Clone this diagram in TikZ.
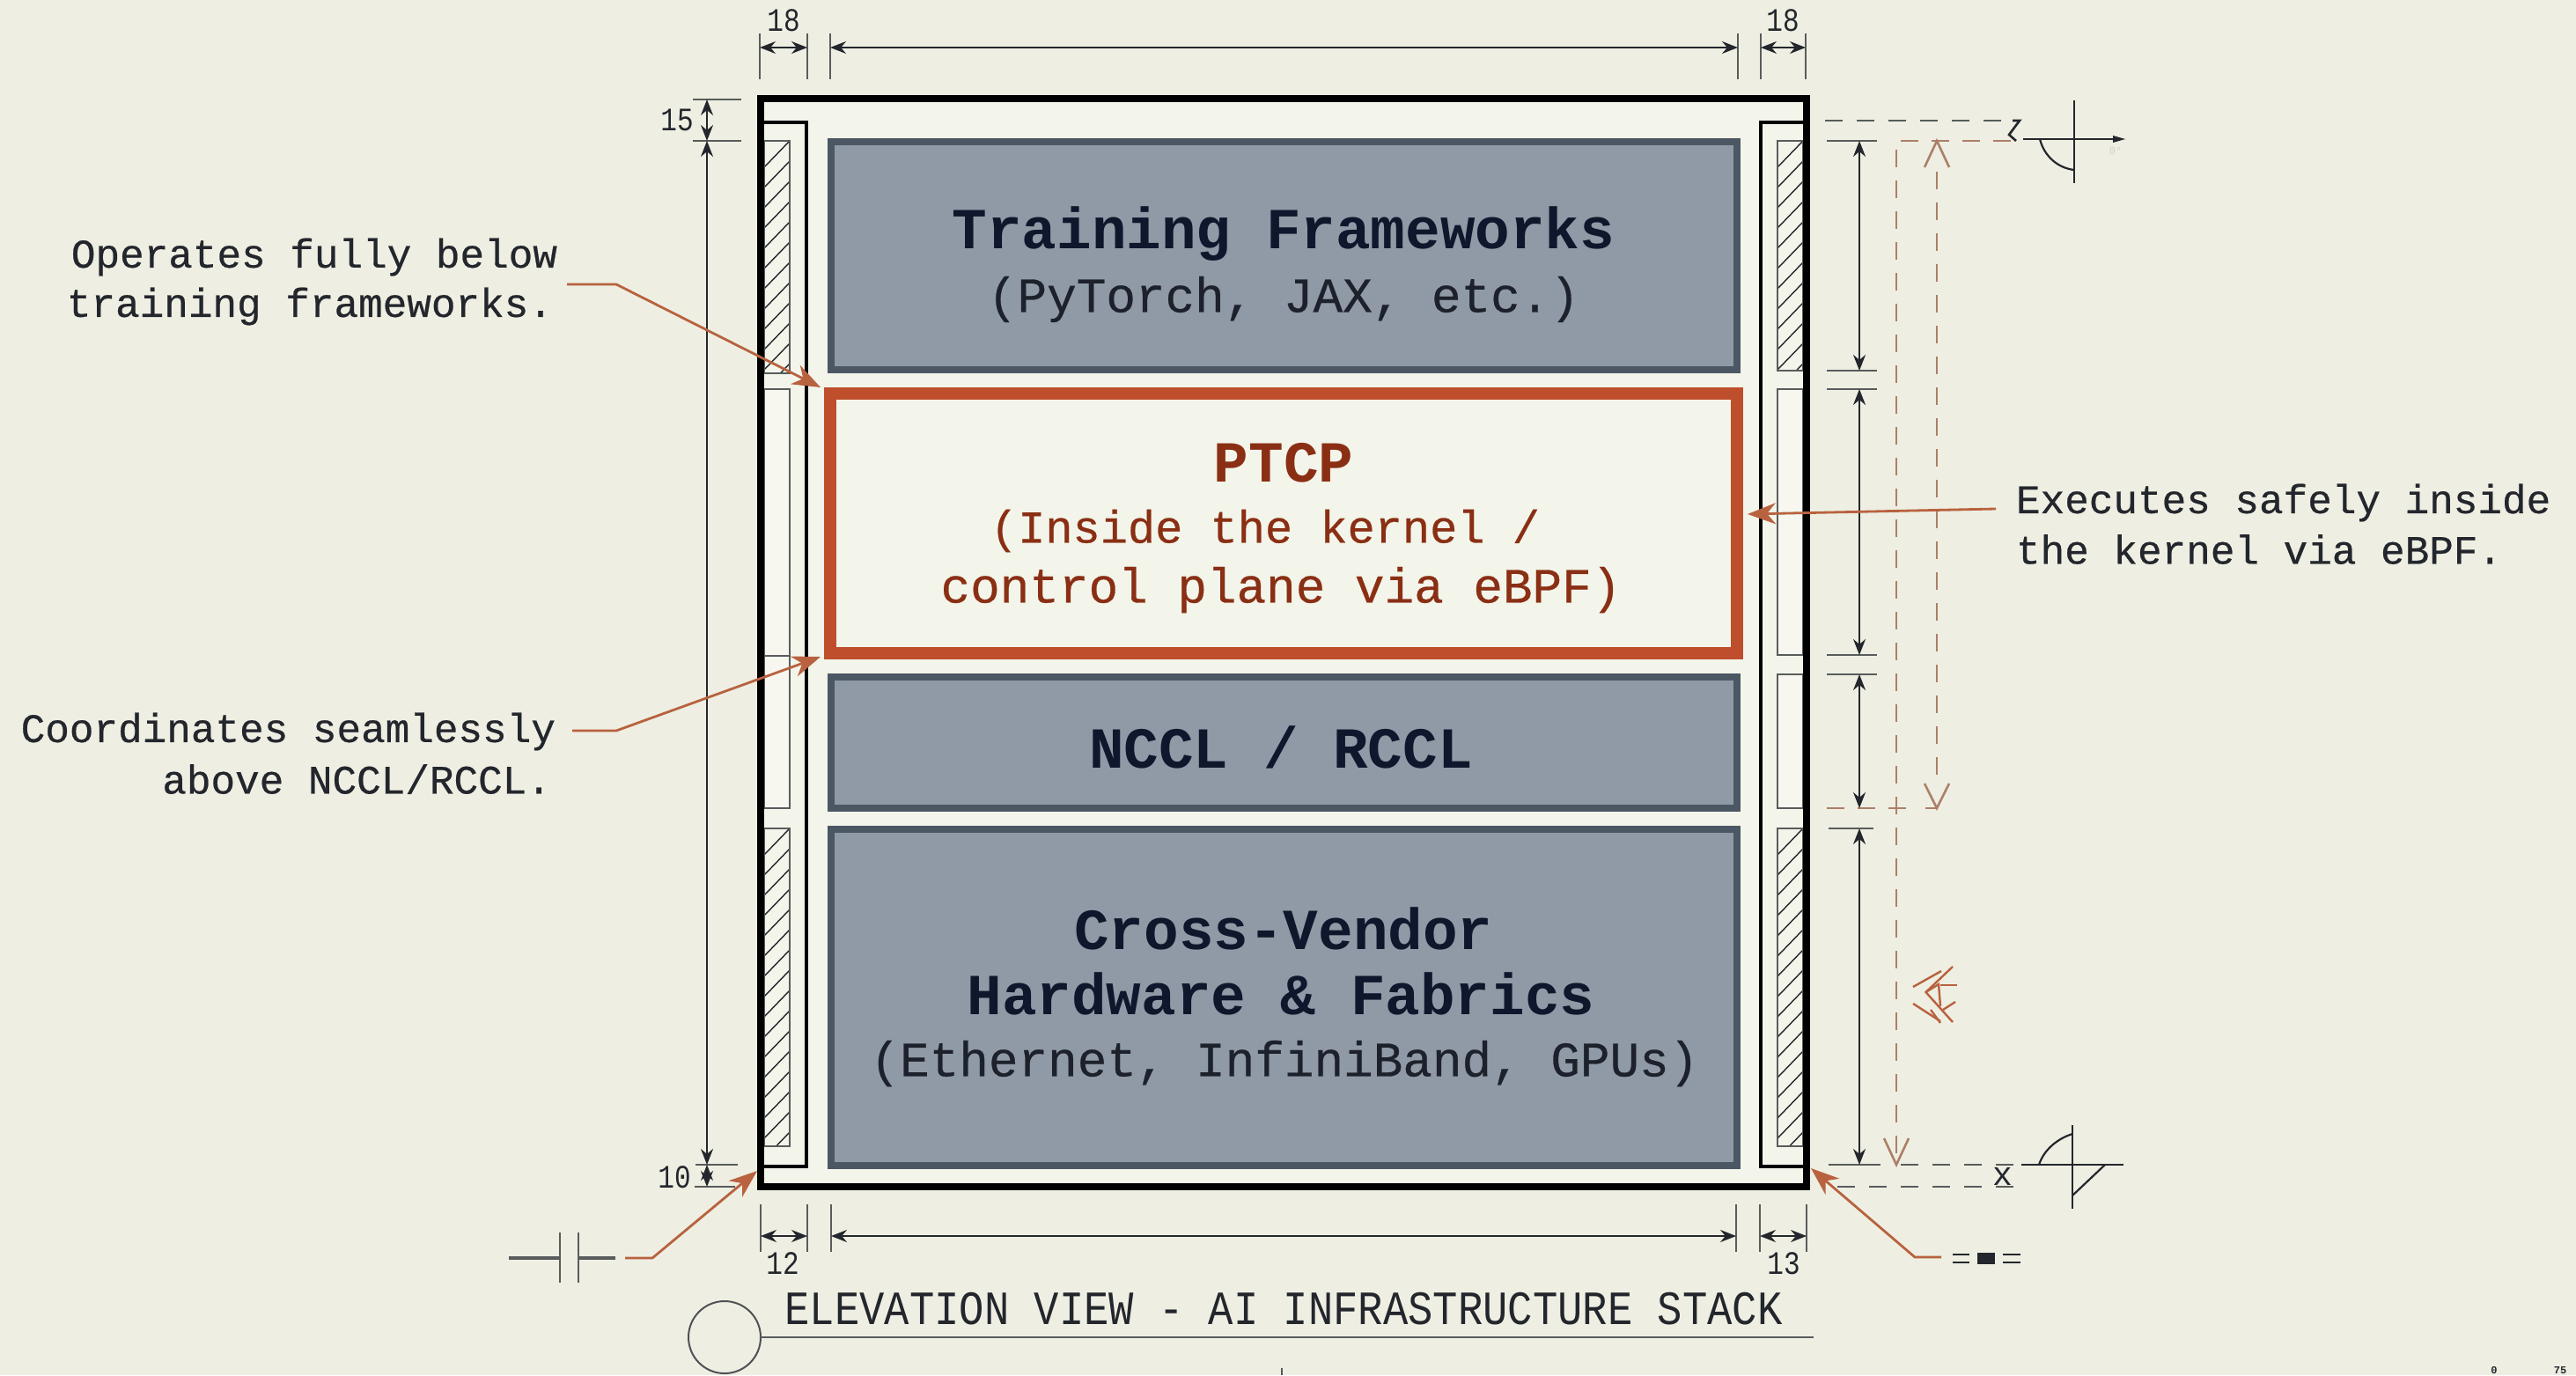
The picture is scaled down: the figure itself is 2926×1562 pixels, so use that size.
\documentclass[tikz,border=0pt]{standalone}
\usepackage{fontspec}
\usetikzlibrary{arrows.meta}
\newfontfamily\plex{Liberation Mono}
\newfontfamily\plexm[FakeBold=0.5]{Liberation Mono}
\newcommand{\sz}[1]{\plex\fontsize{#1}{#1}\selectfont}
\newcommand{\szm}[1]{\plexm\fontsize{#1}{#1}\selectfont}
\definecolor{paper}{HTML}{EEEFE2}
\definecolor{innerbg}{HTML}{F3F4EA}
\definecolor{boxfill}{HTML}{8F9AA6}
\definecolor{boxedge}{HTML}{4B5763}
\definecolor{rust}{HTML}{BF4F2C}
\definecolor{rustdark}{HTML}{8A2F14}
\definecolor{leader}{HTML}{B8623F}
\definecolor{dashrust}{HTML}{AD7F68}
\definecolor{navy}{HTML}{10172C}
\definecolor{ink}{HTML}{23262C}
\definecolor{tick}{HTML}{585C5C}
\tikzset{
  boxnode/.style={draw=boxedge,fill=boxfill,line width=4pt,inner sep=0pt,outer sep=0pt},
  ptcpnode/.style={draw=rust,fill=innerbg,line width=7pt,inner sep=0pt,outer sep=0pt},
  lbl/.style={inner sep=0pt,outer sep=0pt,text=ink},
  title/.style={inner sep=0pt,outer sep=0pt,text=navy,font=\sz{33}\bfseries},
  sub/.style={inner sep=0pt,outer sep=0pt,text=ink!70!navy,font=\szm{28}},
  ptcptxt/.style={inner sep=0pt,outer sep=0pt,text=rustdark,font=\szm{28}},
  note/.style={inner sep=0pt,outer sep=0pt,text=ink,font=\szm{23}},
  dimnum/.style={inner sep=0pt,outer sep=0pt,text=ink,font=\sz{15.5}},
  dimline/.style={draw=ink,line width=0.8pt,{Stealth[length=9pt,width=7pt]}-{Stealth[length=9pt,width=7pt]}},
  ticks/.style={draw=tick,line width=1.1pt},
  panel/.style={draw=tick,line width=1pt,fill=innerbg!70!white},
  hatchline/.style={draw=ink,line width=0.7pt},
  leaderline/.style={draw=leader,line width=1.4pt,-{Stealth[length=16pt,width=12pt,inset=5pt]}},
  rustdash/.style={draw=dashrust,line width=1.4pt,dash pattern=on 10pt off 7.5pt},
  greydash/.style={draw=tick,line width=1.2pt,dash pattern=on 10pt off 8pt},
  symb/.style={draw=ink,line width=1.1pt},
  scrib/.style={draw=leader,line width=1.2pt}
}
\newcommand{\dimH}[4]{\coordinate (#1a) at (#2,#4);\coordinate (#1b) at (#3,#4);\draw[dimline] (#1a) -- (#1b);}
\newcommand{\dimV}[4]{\coordinate (#1a) at (#4,#2);\coordinate (#1b) at (#4,#3);\draw[dimline] (#1a) -- (#1b);}
\newcommand{\hatched}[4]{%
  \begin{scope}
    \clip (#1,#3) rectangle (#2,#4);
    \foreach \yy in {#3,\the\numexpr#3+23\relax,...,#4} {
      \draw[hatchline] (#1,\yy+30) -- (#2,\yy);
    }
    \draw[hatchline] (#1,#4+30) -- (#2,#4);
  \end{scope}
  \draw[ticks] (#1,#3) rectangle (#2,#4);}
\begin{document}
\begin{tikzpicture}[x=0.5pt,y=-0.5pt]
\useasboundingbox (0,0) rectangle (2926,1562);
\fill[paper] (0,0) rectangle (2926,1562);
\fill[innerbg] (864,112) rectangle (2052,1348);
% wall panels, left
\hatched{868}{897}{160}{424}
\draw[panel] (868,442) rectangle (897,745);
\draw[panel] (868,745) rectangle (897,918);
\hatched{868}{897}{941}{1302}
% wall panels, right
\hatched{2019}{2048}{160}{421}
\draw[panel] (2019,442) rectangle (2048,744);
\draw[panel] (2019,766) rectangle (2048,918);
\hatched{2019}{2048}{941}{1302}
% frames
\draw[black!95!navy,line width=2pt] (868,139.5) -- (916,139.5) -- (916,1324.5) -- (868,1324.5);
\draw[black!95!navy,line width=2pt] (2048,139.5) -- (2000,139.5) -- (2000,1324.5) -- (2048,1324.5);
\draw[black,line width=4.4pt] (864,112) rectangle (2052,1348);
% boxes
\node[boxnode,minimum width=514.5pt,minimum height=129pt] (train) at (1458.5,290.5) {};
\node[ptcpnode,minimum width=515pt,minimum height=147.5pt] (ptcp) at (1458,594.5) {};
\node[boxnode,minimum width=514.5pt,minimum height=74.75pt] (nccl) at (1458.5,843.5) {};
\node[boxnode,minimum width=514.5pt,minimum height=191pt] (hw) at (1458.5,1133) {};
% box texts
\node[title] (t1) at (1458,266) {Training Frameworks};
\node[sub] (t2) at (1458,340) {(PyTorch, JAX, etc.)};
\node[ptcptxt,font=\sz{33}\bfseries] (p1) at (1458,526) {PTCP};
\node[ptcptxt,font=\szm{26}] (p2) at (1437,603) {(Inside the kernel /};
\node[ptcptxt] (p3) at (1455,670) {control plane via eBPF)};
\node[title] (n1) at (1455,849) {NCCL / RCCL};
\node[title] (h1) at (1458,1055) {Cross-Vendor};
\node[title] (h2) at (1455,1129) {Hardware \& Fabrics};
\node[sub] (h3) at (1459,1208) {(Ethernet, InfiniBand, GPUs)};
% top dimensions
\draw[ticks] (863,38) -- (863,90) (917,38) -- (917,90) (943,38) -- (943,90) (1974,38) -- (1974,90) (2000,38) -- (2000,90) (2051,38) -- (2051,90);
\dimH{dta}{863}{917}{54}
\dimH{dtb}{943}{1974}{54}
\dimH{dtc}{2000}{2051}{54}
\node[dimnum] (n18a) at (890,23) {\scalebox{1}[1.2]{18}};
\node[dimnum] (n18b) at (2025,23) {\scalebox{1}[1.2]{18}};
% bottom dimensions
\draw[ticks] (864,1368) -- (864,1422) (917,1368) -- (917,1422) (944,1368) -- (944,1422) (1972,1368) -- (1972,1422) (1999,1368) -- (1999,1422) (2052,1368) -- (2052,1422);
\dimH{dba}{864}{917}{1404}
\dimH{dbb}{944}{1972}{1404}
\dimH{dbc}{1999}{2052}{1404}
\node[dimnum] (n12) at (889,1435) {\scalebox{1}[1.2]{12}};
\node[dimnum] (n13) at (2026,1435) {\scalebox{1}[1.2]{13}};
% left dimensions
\draw[ticks] (787,113) -- (842,113) (787,160) -- (842,160) (790,1323) -- (838,1323) (789,1348) -- (835,1348);
\dimV{dla}{113}{160}{803}
\dimV{dlb}{160}{1323}{803}
\dimV{dlc}{1323}{1348}{803}
\node[dimnum] (n15) at (769,136) {\scalebox{1}[1.2]{15}};
\node[dimnum] (n10) at (766,1337) {\scalebox{1}[1.2]{10}};
% right dimensions
\draw[ticks] (2075,160) -- (2132,160) (2075,421) -- (2132,421) (2075,442) -- (2132,442) (2075,744) -- (2132,744) (2075,766) -- (2132,766) (2077,941) -- (2128,941) (2077,1323) -- (2136,1323);
\draw[draw=dashrust,line width=1.4pt,dash pattern=on 10pt off 7.5pt] (2075,918) -- (2172,918);
\draw[draw=dashrust,line width=1.4pt] (2187,918) -- (2201,918);
\dimV{dra}{160}{421}{2112}
\dimV{drb}{442}{744}{2112}
\dimV{drc}{766}{918}{2112}
\dimV{drd}{941}{1323}{2112}
% rust dashed construction lines
\coordinate (ra) at (2154,160);
\coordinate (rb) at (2154,1323);
\coordinate (rc) at (2284,160);
\coordinate (rd) at (2200,160);
\coordinate (re) at (2200,918);
\draw[rustdash] (rc) -- (ra) -- (rb);
\draw[draw=dashrust,line width=1.3pt] (2140,1293) -- (rb) -- (2168,1293);
\draw[rustdash] (2200,195) -- (2200,890);
\draw[draw=dashrust,line width=1.3pt] (2186,190) -- (rd) -- (2214,190);
\draw[draw=dashrust,line width=1.3pt] (2186,890) -- (re) -- (2214,890);
% upper datum
\coordinate (ua) at (2073,137);
\coordinate (ub) at (2284,137);
\draw[greydash] (ua) -- (ub);
\draw[symb,line width=1.3pt] (2286,137) -- (2294,137) -- (2282,153) -- (2290,160);
\draw[symb] (2298,158) -- (2402,158);
\fill[ink] (2400,154) -- (2414,158) -- (2400,162) -- cycle;
\draw[symb] (2356,114) -- (2356,208);
\draw[symb] (2317,158) .. controls (2322,178) and (2338,191) .. (2356,193);
\node[inner sep=0pt,text=black!18,font=\sz{6}] (zero) at (2403,172) {0\textdegree};
% lower datum
\draw[greydash] (2159,1323) -- (2293,1323);
\draw[greydash] (2087,1348) -- (2293,1348);
\node[lbl,font=\sz{19}] (xmark) at (2275,1336) {x};
\draw[symb] (2296,1323) -- (2412,1323);
\draw[symb] (2354,1278) -- (2354,1373);
\draw[symb] (2316,1323) .. controls (2322,1305) and (2338,1293) .. (2354,1288);
\draw[symb] (2391,1323) -- (2354,1358);
% rust scribble
\draw[scrib] (2173,1121) -- (2205,1103);
\draw[scrib] (2218,1098) -- (2187.5,1127) -- (2218,1161);
\draw[scrib] (2187.5,1127) -- (2202,1118) -- (2204,1143);
\draw[scrib] (2204,1119) -- (2223,1119);
\draw[scrib] (2173,1140) -- (2204,1160);
\draw[scrib] (2221,1138) -- (2207,1147);
\draw[scrib] (2193,1147) -- (2204,1162);
% capacitor symbol
\coordinate (cl) at (578,1429);
\coordinate (cr) at (699,1429);
\draw[draw=tick,line width=1.6pt] (cl) -- (636,1429) (657,1429) -- (cr);
\draw[draw=tick,line width=1.4pt] (636,1400) -- (636,1457) (657,1400) -- (657,1457);
% other symbol
\draw[symb,line width=1.2pt] (2218,1425) -- (2237,1425) (2218,1434) -- (2237,1434) (2275,1425) -- (2295,1425) (2275,1434) -- (2295,1434);
\fill[ink] (2246,1423) rectangle (2266,1436);
% notes
\node[note,anchor=east] (na) at (633,292) {Operates fully below};
\node[note,anchor=east] (nb) at (628,348) {training frameworks.};
\node[note,anchor=east] (nc) at (631,831) {Coordinates seamlessly};
\node[note,anchor=east] (nd) at (626,885) {above NCCL/RCCL.};
\node[note,anchor=west] (ne) at (2290,571) {Executes safely inside};
\node[note,anchor=west] (nf) at (2290,624) {the kernel via eBPF.};
% leaders
\coordinate (la) at (644,323);
\coordinate (laa) at (700,323);
\coordinate (lat) at (932,440);
\draw[leaderline] (la) -- (laa) -- (lat);
\coordinate (lb) at (650,830);
\coordinate (lbb) at (700,830);
\coordinate (lbt) at (932,746);
\draw[leaderline] (lb) -- (lbb) -- (lbt);
\coordinate (lc) at (2267,578);
\coordinate (lct) at (1985,584);
\draw[leaderline] (lc) -- (lct);
\coordinate (ld) at (710,1429);
\coordinate (ldd) at (741,1429);
\coordinate (ldt) at (860,1330);
\draw[leaderline] (ld) -- (ldd) -- (ldt);
\coordinate (le) at (2205,1428);
\coordinate (lee) at (2175,1428);
\coordinate (let) at (2057,1327);
\draw[leaderline] (le) -- (lee) -- (let);
% title
\node[draw=ink!80,line width=1pt,circle,minimum size=41pt,inner sep=0pt,outer sep=0pt] (cir) at (823,1519) {};
\coordinate (tl) at (2060,1519);
\draw[draw=tick,line width=1.2pt] (cir.east) -- (tl);
\node[lbl,font=\sz{23.6},text=ink] (ttl) at (1458,1487) {\scalebox{1}[1.15]{ELEVATION VIEW - AI INFRASTRUCTURE STACK}};
% scale marks
\coordinate (sta) at (1456,1554);
\coordinate (stb) at (1456,1562);
\draw[tick,line width=0.6pt] (sta) -- (stb);
\node[lbl,font=\sz{6}\bfseries] (s0) at (2833,1557) {0};
\node[lbl,font=\sz{6}\bfseries] (s75) at (2908,1557) {75};
\end{tikzpicture}
\end{document}
